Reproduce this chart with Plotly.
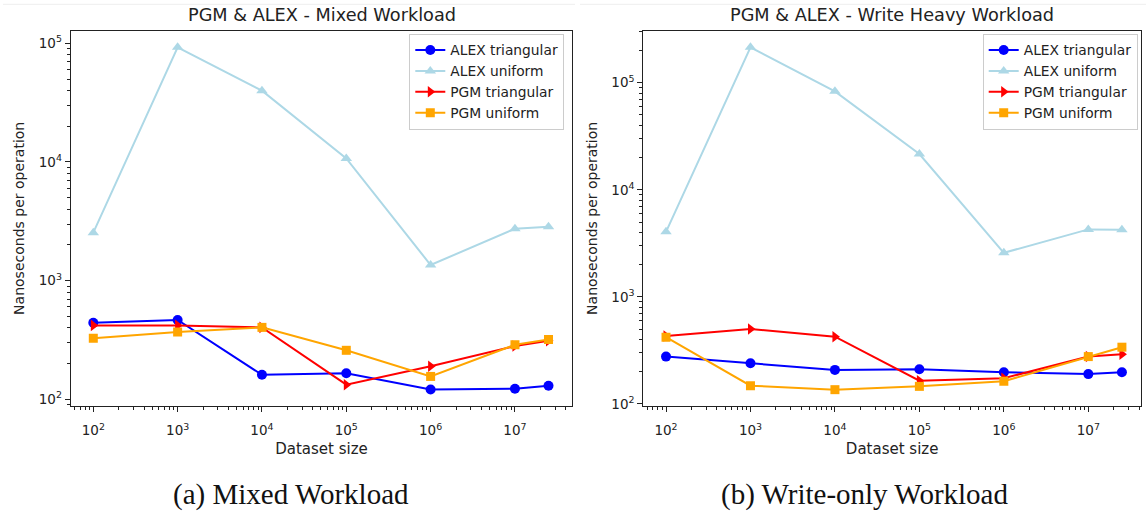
import plotly.graph_objects as go

# Dataset sizes (number of keys)
sizes = [1e2, 1e3, 1e4, 1e5, 1e6, 1e7, 2.5e7]

# Mixed workload, nanoseconds per operation
mixed_alex_triangular = [442, 466, 161, 166, 121, 123, 130]
mixed_alex_uniform = [2535, 92500, 39900, 10700, 1355, 2740, 2850]
mixed_pgm_triangular = [420, 420, 404, 133, 190, 281, 312]
mixed_pgm_uniform = [327, 369, 404, 259, 156, 288, 320]

# Write-heavy workload, nanoseconds per operation
write_alex_triangular = [277, 240, 208, 211, 198, 190, 198]
write_alex_uniform = [4050, 214000, 83100, 21600, 2580, 4270, 4240]
write_pgm_triangular = [432, 502, 425, 165, 174, 277, 291]
write_pgm_uniform = [420, 148, 136, 146, 163, 277, 339]

series_names = ["ALEX triangular", "ALEX uniform", "PGM triangular", "PGM uniform"]
series_colors = ["#0000ff", "#add8e6", "#ff0000", "#ffa500"]
series_symbols = ["circle", "triangle-up", "triangle-right", "square"]
series_sizes = [10, 10, 10, 9]

tick_vals = [1e2, 1e3, 1e4, 1e5, 1e6, 1e7]
tick_text = ["10<sup>2</sup>", "10<sup>3</sup>", "10<sup>4</sup>", "10<sup>5</sup>",
             "10<sup>6</sup>", "10<sup>7</sup>"]
y_tick_vals = [1e2, 1e3, 1e4, 1e5]
y_tick_text = ["10<sup>2</sup>", "10<sup>3</sup>", "10<sup>4</sup>", "10<sup>5</sup>"]

W, H = 1146, 512
FONT = "DejaVu Sans"
TXT = "#222222"

fig = go.Figure()

panels = [
    ([mixed_alex_triangular, mixed_alex_uniform, mixed_pgm_triangular, mixed_pgm_uniform],
     "x", "y", "legend"),
    ([write_alex_triangular, write_alex_uniform, write_pgm_triangular, write_pgm_uniform],
     "x2", "y2", "legend2"),
]

for data, xa, ya, lg in panels:
    for name, vals, col, sym, msz in zip(series_names, data, series_colors,
                                         series_symbols, series_sizes):
        fig.add_trace(go.Scatter(
            x=sizes, y=vals, name=name, mode="lines+markers",
            line=dict(color=col, width=2),
            marker=dict(color=col, symbol=sym, size=msz, line=dict(width=0)),
            xaxis=xa, yaxis=ya, legend=lg,
        ))

axis_common = dict(
    type="log", showgrid=False, zeroline=False, automargin=False,
    showline=True, linecolor="#222222", linewidth=1.2, mirror=True,
    ticks="outside", ticklen=5, tickwidth=1, tickcolor="#222222",
    tickfont=dict(family=FONT, size=13.5, color=TXT),
    minor=dict(ticks="outside", ticklen=3, tickwidth=0.8, tickcolor="#222222",
               dtick="D1", showgrid=False),
)
x_common = dict(axis_common, tickmode="array", tickvals=tick_vals, ticktext=tick_text,
                ticklabelstandoff=7,
                title=dict(text="Dataset size", font=dict(family=FONT, size=15, color=TXT),
                           standoff=6))
y_common = dict(axis_common, tickmode="array", tickvals=y_tick_vals, ticktext=y_tick_text,
                title=dict(text="Nanoseconds per operation",
                           font=dict(family=FONT, size=14, color=TXT), standoff=10))
y_dom = [1 - 406 / H, 1 - 30.7 / H]
legend_common = dict(yanchor="top", xanchor="right", y=1 - 33.5 / H,
                     bgcolor="rgba(255,255,255,0.85)", bordercolor="#cccccc", borderwidth=1,
                     font=dict(family=FONT, size=13.8, color=TXT), tracegroupgap=0)

fig.update_layout(
    width=W, height=H,
    margin=dict(l=0, r=0, t=0, b=0, autoexpand=False),
    paper_bgcolor="white", plot_bgcolor="white",
    font=dict(family=FONT, size=14, color=TXT),
    xaxis=dict(x_common, domain=[70.7 / W, 572.3 / W], range=[1.732, 7.68], anchor="y"),
    yaxis=dict(y_common, domain=y_dom, range=[1.944, 5.106], anchor="x"),
    xaxis2=dict(x_common, domain=[643.3 / W, 1141 / W], range=[1.731, 7.624], anchor="y2"),
    yaxis2=dict(y_common, domain=y_dom, range=[1.981, 5.486], anchor="x2"),
    legend=dict(legend_common, x=564.3 / W),
    legend2=dict(legend_common, x=1137.7 / W),
    showlegend=True,
)

# Panel titles and captions
labels = [
    ("PGM & ALEX - Mixed Workload", 321.5, 15, FONT, 17.7, TXT),
    ("PGM & ALEX - Write Heavy Workload", 892.5, 15, FONT, 17.7, TXT),
    ("(a) Mixed Workload", 291, 494, "Liberation Serif", 29, "#111111"),
    ("(b) Write-only Workload", 864, 494, "Liberation Serif", 29, "#111111"),
]
for text, px, py, fam, sz, col in labels:
    fig.add_annotation(text=text, x=px / W, y=1 - py / H, xref="paper", yref="paper",
                       xanchor="center", yanchor="middle", showarrow=False,
                       font=dict(family=fam, size=sz, color=col))

# Faint separators along the top edge of each panel image
for x0, x1 in [(3, 575), (580, 1146)]:
    fig.add_shape(type="line", xref="paper", yref="paper", x0=x0 / W, x1=x1 / W,
                  y0=1 - 4.3 / H, y1=1 - 4.3 / H, line=dict(color="#eeeeee", width=1))

fig.write_html("out.html")
